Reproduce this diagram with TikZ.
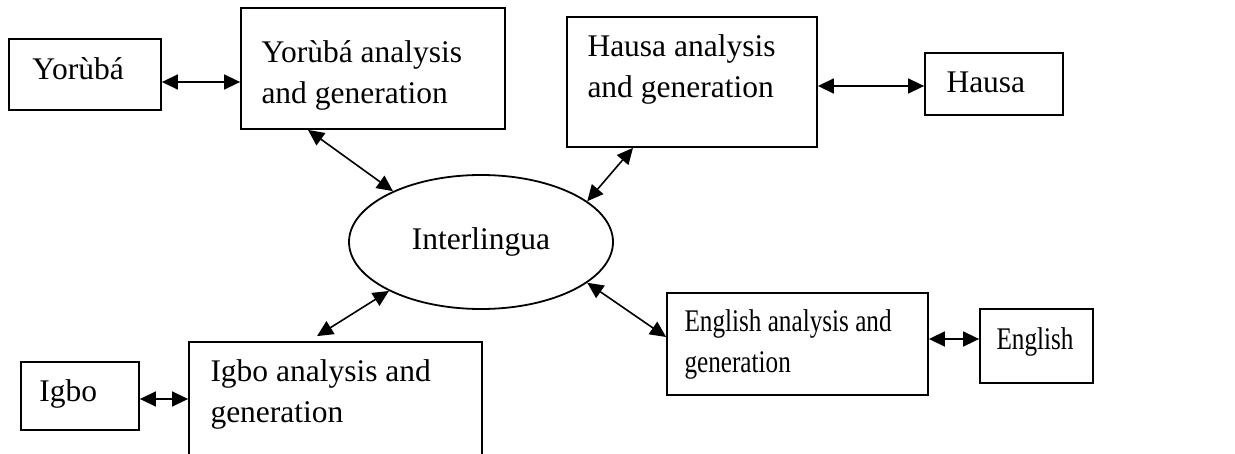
\documentclass[tikz,border=0pt]{standalone}
\usepackage{fontspec}
\setmainfont{Liberation Serif}
\newfontfamily\narrowfont{Liberation Serif}[FakeStretch=0.8]
\usetikzlibrary{positioning,shapes.geometric,arrows.meta}

\begin{document}
\begin{tikzpicture}[x=0.5pt,y=-0.5pt,
  box/.style={draw,line width=0.9pt,inner sep=0pt},
  lbl/.style={font=\fontsize{15.75}{20.5}\selectfont,align=left,inner sep=0pt},
  narrow/.style={font=\narrowfont\fontsize{15.75}{20.5}\selectfont},
  link/.style={line width=0.8pt,{Triangle[length=8pt,width=7.5pt]}-{Triangle[length=8pt,width=7.5pt]}}]
  \useasboundingbox (0,0) rectangle (1235,454);
  \clip (0,0) rectangle (1235,454);

  \node[box,minimum width=76pt,minimum height=35.5pt] (yor) at (85,74.5) {};
  \node[box,minimum width=132pt,minimum height=60.5pt] (yan) at (373,68.5) {};
  \node[box,minimum width=125pt,minimum height=65pt] (han) at (692,82) {};
  \node[box,minimum width=69pt,minimum height=31pt] (hau) at (994,84) {};
  \node[box,ellipse,minimum width=132pt,minimum height=67pt,font=\fontsize{15.75}{20.5}\selectfont] (ilg) at (481,242) {Interlingua};
  \node[box,minimum width=146.5pt,minimum height=64pt] (ian) at (335.5,406) {};
  \node[box,minimum width=59pt,minimum height=34pt] (igb) at (80,396) {};
  \node[box,minimum width=130.5pt,minimum height=51pt] (ean) at (797.5,344) {};
  \node[box,minimum width=56.5pt,minimum height=37pt] (eng) at (1036.5,346) {};

  \node[lbl,below right=20.5pt and 12pt of yor.north west,anchor=base west] (yortext) {Yorùbá};
  \node[lbl,below right=48pt and 10.5pt of yan.north west,anchor=base west] (yantext) {Yorùbá analysis\\and generation};
  \node[lbl,below right=40.5pt and 10.5pt of han.north west,anchor=base west] (hantext) {Hausa analysis\\and generation};
  \node[lbl,below right=20pt and 11pt of hau.north west,anchor=base west] (hautext) {Hausa};
  \node[lbl,below right=40.5pt and 11pt of ian.north west,anchor=base west] (iantext) {Igbo analysis and\\generation};
  \node[lbl,below right=20pt and 9.5pt of igb.north west,anchor=base west] (igbtext) {Igbo};
  \node[lbl,narrow,below right=40pt and 9pt of ean.north west,anchor=base west] (eantext) {English analysis and\\generation};
  \node[lbl,narrow,below right=20.5pt and 8.5pt of eng.north west,anchor=base west] (engtext) {English};

  \draw[link] ([yshift=-3.75pt]yor.east) -- ([yshift=-3.75pt]yor.east -| yan.west);
  \draw[link] ([yshift=-2pt]han.east) -- ([yshift=-2pt]han.east -| hau.west);
  \draw[link] ([yshift=-1.5pt]igb.east) -- ([yshift=-1.5pt]igb.east -| ian.west);
  \draw[link] ([yshift=2.5pt]ean.east) -- ([yshift=2.5pt]ean.east -| eng.west);

  \draw[link] ([xshift=-32.5pt]yan.south) -- (ilg.150);
  \draw[link] ([xshift=-29.5pt]han.south) -- (ilg.21);
  \draw[link] ([xshift=-9.25pt,yshift=2.5pt]ian.north) -- (ilg.208);
  \draw[link] ([yshift=3.5pt]ean.west) -- (ilg.-21);
\end{tikzpicture}
\end{document}
